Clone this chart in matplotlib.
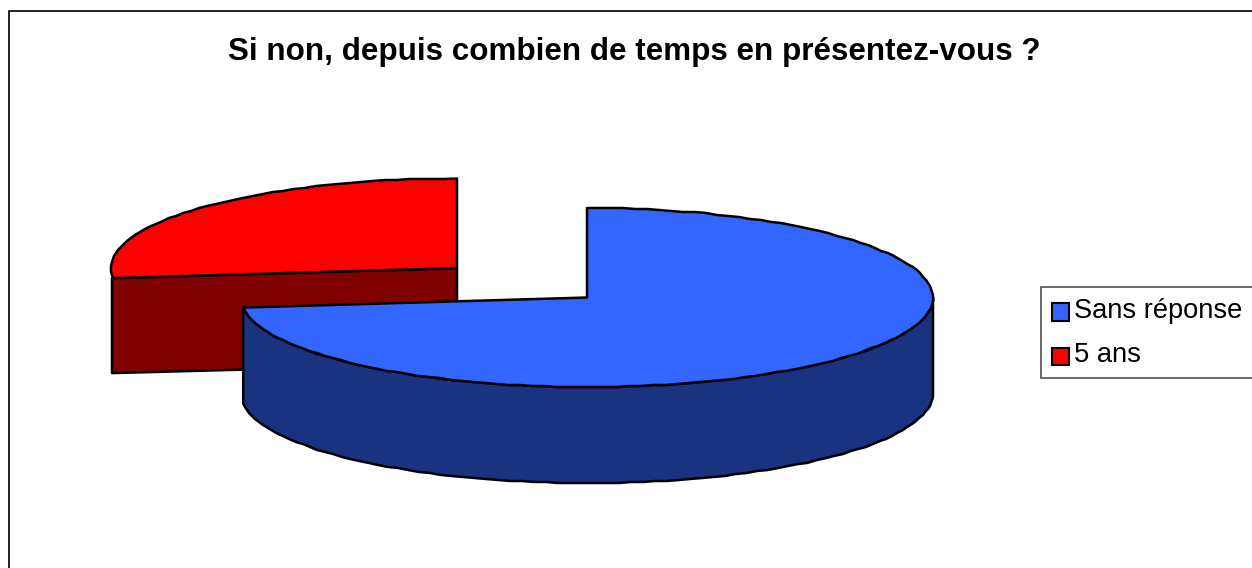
import numpy as np
import matplotlib
matplotlib.use('Agg')
import matplotlib.pyplot as plt
from matplotlib.patches import Polygon, Rectangle

title = 'Si non, depuis combien de temps en présentez-vous ?'
labels = ['Sans réponse', '5 ans']
values = [73.2, 26.8]
colors = ['#3366ff', '#ff0000']
dark_colors = ['#1a3380', '#800000']

plt.rcParams['font.family'] = ['Liberation Sans', 'DejaVu Sans']

W, H = 1252, 568
rx, ry, depth = 346, 89.5, 96
centers = [(587, 297.5), (457, 268)]
lw = 1.8


def ellipse_pts(c, a0, a1):
    # angles clockwise from 12 o'clock, in degrees
    # the outline of the original is slightly rough, so snap the points to whole pixels
    n = max(int(abs(a1 - a0) / 2), 1)
    t = np.radians(np.linspace(a0, a1, n + 1))
    pts = np.column_stack([c[0] + rx * np.sin(t), c[1] - ry * np.cos(t)])
    pts[1:-1] = np.round(pts[1:-1])
    return pts


fig = plt.figure(figsize=(W / 100, H / 100), dpi=100)
ax = fig.add_axes([0, 0, 1, 1])
ax.set_xlim(0, W)
ax.set_ylim(H, 0)
ax.axis('off')

# chart frame, right and bottom are cut off in the picture
ax.plot([8.5, 8.5, W], [H, 10.5, 10.5], color='#202020', lw=1.4, zorder=1)

angles = np.cumsum([0] + values) / sum(values) * 360
edge = dict(edgecolor='black', lw=lw, joinstyle='round')

# left slice: cut face only, its outer wall is a sliver
c = centers[1]
p = ellipse_pts(c, angles[1], angles[2])[0]
face = [(c[0] - rx + 1, p[1]), c, (c[0], c[1] + depth), (c[0] - rx + 1, p[1] + depth - 1)]
ax.add_patch(Polygon(face, facecolor=dark_colors[1], zorder=2, **edge))
top_face = np.vstack([[c], ellipse_pts(c, angles[1], angles[2])])
ax.add_patch(Polygon(top_face, facecolor=colors[1], zorder=3, **edge))

# big slice: outer wall on the front half, then the top
c = centers[0]
front = ellipse_pts(c, 90, angles[1])
ax.add_patch(Polygon(np.vstack([front, front[::-1] + [0, depth]]), facecolor=dark_colors[0], zorder=4, **edge))
top_face = np.vstack([[c], ellipse_pts(c, angles[0], angles[1])])
ax.add_patch(Polygon(top_face, facecolor=colors[0], zorder=5, **edge))

ax.text(634.5, 60, title, ha='center', va='baseline', fontsize=22.55, fontweight='bold', color='black')

# legend box, its right side runs off the picture
ax.add_patch(Rectangle((1040.7, 286.7), 220, 91, facecolor='white', edgecolor='#404040', lw=1.1, zorder=6))
patch_tops = [303, 347.5]
baselines = [318, 361.5]
for i in range(2):
    ax.add_patch(Rectangle((1051.5, patch_tops[i]), 17, 17.5, facecolor=colors[i], edgecolor='black', lw=1.5, zorder=7))
    ax.text(1074.5, baselines[i], labels[i], ha='left', va='baseline', fontsize=19.6, color='black', zorder=7)

fig.savefig('out.png', dpi=100)
